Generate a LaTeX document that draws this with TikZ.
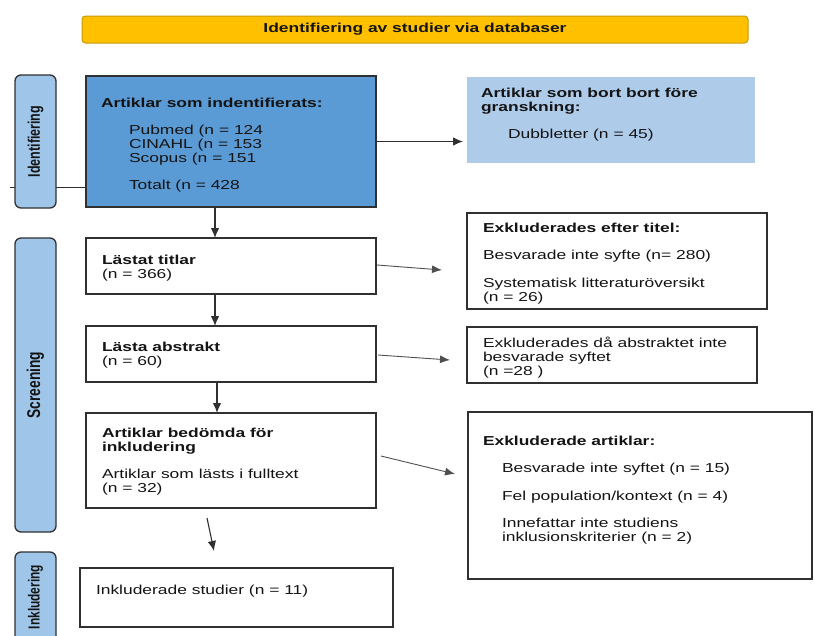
\documentclass[tikz,border=0pt]{standalone}
\usepackage{fontspec}
\newfontfamily\bodyfont[FakeStretch=1.34]{Liberation Sans}
\newfontfamily\tabfont[FakeStretch=0.746]{Liberation Sans}
\usetikzlibrary{arrows.meta}
\definecolor{bluefill}{HTML}{5B9BD5}
\definecolor{lightblue}{HTML}{AECBEA}
\definecolor{tabfill}{HTML}{9FC5E8}
\definecolor{yfill}{HTML}{FFC000}
\definecolor{yborder}{HTML}{C99A06}
\definecolor{bordergray}{HTML}{303030}
\definecolor{txtcol}{HTML}{141414}
\tikzset{
  boxbase/.style={draw=bordergray, line width=1.4pt, inner sep=0pt, outer sep=0pt, anchor=north west, rectangle},
  txt/.style={anchor=north west, inner sep=0pt, outer sep=0pt, align=left, text=txtcol,
    font=\bodyfont\fontsize{13}{14}\selectfont},
  sidetab/.style={draw=bordergray, line width=1.3pt, fill=tabfill, rounded corners=6pt,
    rotate=90, minimum height=41pt, inner sep=0pt, text=txtcol},
  flowarrow/.style={draw=bordergray, line width=1.1pt, -{Latex[length=10pt,width=8.5pt]}},
  exarrow/.style={draw=bordergray!85, line width=0.9pt, -{Latex[length=10pt,width=8pt]}},
  plainline/.style={draw=bordergray, line width=1pt}
}
\newcommand{\fs}{\rule{0pt}{12pt}}
\begin{document}
\begin{tikzpicture}[x=1pt,y=-1pt]
\useasboundingbox (0,0) rectangle (814,635);
\clip (0,0) rectangle (814,635);

% header
\node[draw=yborder, line width=1pt, fill=yfill, rounded corners=3.5pt, minimum width=666pt,
  minimum height=27pt, inner sep=0pt, text=txtcol, font=\bodyfont\bfseries\fontsize{13}{14}\selectfont]
  (hdr) at (415,29.5) {Identifiering av studier via databaser};

% left line into identification box (drawn below the tab)
\coordinate (lstart) at (10,187);

% boxes
\node[boxbase, fill=bluefill, minimum width=290pt, minimum height=131pt] (idbox) at (86,76) {};
\node[boxbase, draw=none, fill=lightblue, minimum width=288pt, minimum height=86pt] (dup) at (467,77) {};
\node[boxbase, fill=white, minimum width=300pt, minimum height=96pt] (extitle) at (467,213) {};
\node[boxbase, fill=white, minimum width=290pt, minimum height=56pt] (titles) at (86,238) {};
\node[boxbase, fill=white, minimum width=290pt, minimum height=56pt] (abstr) at (86,326) {};
\node[boxbase, fill=white, minimum width=290pt, minimum height=56pt] (exabstr) at (467,327) {};
\node[boxbase, fill=white, minimum width=290pt, minimum height=95pt] (assess) at (86,413) {};
\node[boxbase, fill=white, minimum width=344pt, minimum height=167pt] (exart) at (468,412) {};
\node[boxbase, fill=white, minimum width=313pt, minimum height=59pt] (incl) at (80,568) {};

\draw[plainline] (lstart) -- (lstart -| idbox.west);

% side tabs
\node[sidetab, minimum width=133pt, font=\tabfont\bfseries\fontsize{16.75}{18}\selectfont] (tabid) at (35.5,141.5) {Identifiering};
\node[sidetab, minimum width=294pt, font=\tabfont\bfseries\fontsize{18.5}{19}\selectfont] (tabscr) at (35.5,385) {Screening};
\node[sidetab, minimum width=90pt, font=\tabfont\bfseries\fontsize{16}{18}\selectfont] (tabinc) at (35.5,597) {Inkludering};

% texts
\node[txt] (idtxt) at (101,95) {\fs\textbf{Artiklar som indentifierats:}\\[13pt]
  \hspace*{28pt}Pubmed (n = 124\\
  \hspace*{28pt}CINAHL (n = 153\\
  \hspace*{28pt}Scopus (n = 151\\[13pt]
  \hspace*{28pt}Totalt (n = 428};
\node[txt] (duptxt) at (481,85) {\fs\textbf{Artiklar som bort bort före}\\
  \textbf{granskning:}\\[13pt]
  \hspace*{27pt}Dubbletter (n = 45)};
\node[txt] (titlestxt) at (102,252) {\fs\textbf{Lästat titlar}\\(n = 366)};
\node[txt] (extitletxt) at (483,220) {\fs\textbf{Exkluderades efter titel:}\\[13pt]
  Besvarade inte syfte (n= 280)\\[14pt]
  Systematisk litteraturöversikt\\
  (n = 26)};
\node[txt] (abstrtxt) at (102,339) {\fs\textbf{Lästa abstrakt}\\(n = 60)};
\node[txt] (exabstrtxt) at (483,335) {\fs Exkluderades då abstraktet inte\\
  besvarade syftet\\
  (n =28 )};
\node[txt] (assesstxt) at (102,425) {\fs\textbf{Artiklar bedömda för}\\
  \textbf{inkludering}\\[13pt]
  Artiklar som lästs i fulltext\\
  (n = 32)};
\node[txt] (exarttxt) at (483,433) {\fs\textbf{Exkluderade artiklar:}\\[13pt]
  \hspace*{19pt}Besvarade inte syftet (n = 15)\\[14pt]
  \hspace*{19pt}Fel population/kontext (n = 4)\\[13pt]
  \hspace*{19pt}Innefattar inte studiens\\
  \hspace*{19pt}inklusionskriterier (n = 2)};
\node[txt] (incltxt) at (96,582) {\fs Inkluderade studier (n = 11)};

% connectors
\draw[flowarrow] (idbox.east) -- ([xshift=-4pt]idbox.east -| dup.west);

\coordinate (v1) at (215,207);
\coordinate (v2) at (215,294);
\coordinate (v3) at (217,382);
\draw[flowarrow] (v1) -- (v1 |- titles.north);
\draw[flowarrow] (v2) -- (v2 |- abstr.north);
\draw[flowarrow] (v3) -- (v3 |- assess.north);

\coordinate (v4s) at (207,518);
\coordinate (v4e) at (214,551);
\draw[flowarrow] (v4s) -- (v4e);

\coordinate (e1s) at (377,265);
\coordinate (e1e) at (442,270);
\coordinate (e2s) at (378,355);
\coordinate (e2e) at (450,360);
\coordinate (e3s) at (381,456);
\coordinate (e3e) at (455,474);
\draw[exarrow] (e1s) -- (e1e);
\draw[exarrow] (e2s) -- (e2e);
\draw[exarrow] (e3s) -- (e3e);
\end{tikzpicture}
\end{document}
